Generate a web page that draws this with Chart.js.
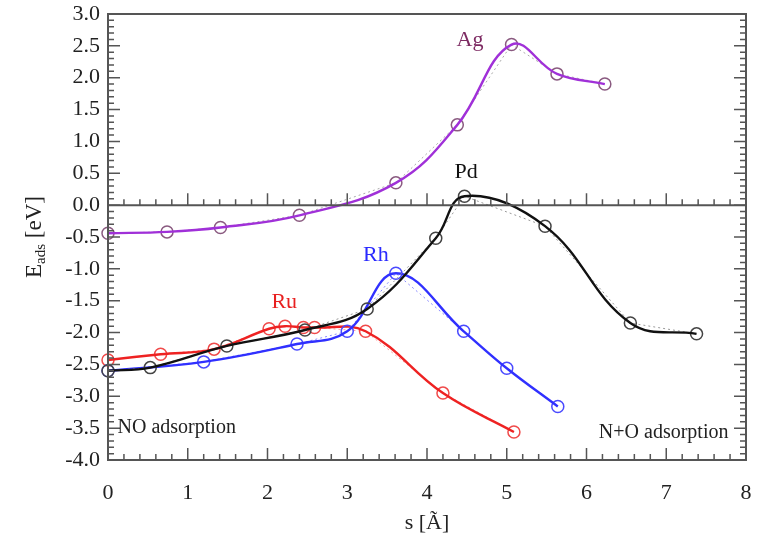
<!DOCTYPE html>
<html>
<head>
<meta charset="utf-8">
<script src="https://cdn.jsdelivr.net/npm/chart.js@4.4.1/dist/chart.umd.min.js"></script>
<style>
  html, body { margin: 0; padding: 0; background: #fff; }
  #wrap { width: 758px; height: 537px; }
</style>
</head>
<body>
<div id="wrap"><canvas id="chart" width="758" height="537"></canvas></div>
<script>
// reaction coordinate s [A] and adsorption energy [eV] per metal
const agS = [0, 0.74, 1.41, 2.40, 3.61, 4.38, 5.06, 5.63, 6.23];
const agE = [-0.44, -0.42, -0.35, -0.16, 0.35, 1.26, 2.52, 2.06, 1.90];

const pdS = [0, 0.53, 1.49, 2.47, 3.25, 4.11, 4.47, 5.48, 6.55, 7.38];
const pdE = [-2.60, -2.55, -2.21, -1.96, -1.63, -0.52, 0.14, -0.33, -1.85, -2.02];

const rhS = [0, 1.20, 2.37, 3.00, 3.61, 4.46, 5.00, 5.64];
const rhE = [-2.60, -2.46, -2.18, -1.98, -1.07, -1.98, -2.56, -3.16];

const ruS = [0, 0.66, 1.33, 2.02, 2.22, 2.45, 2.59, 3.23, 4.20, 5.09];
const ruE = [-2.43, -2.34, -2.26, -1.94, -1.90, -1.92, -1.92, -1.98, -2.95, -3.56];

// curve labels: text, s, E
const curveLabels = [
  ["Ag", 4.54, 2.59, "#7d2a62"],
  ["Pd", 4.49, 0.52, "#111"],
  ["Rh", 3.36, -0.78, "#2a2aff"],
  ["Ru", 2.21, -1.52, "#e82020"]
];

const xTicks = [0, 1, 2, 3, 4, 5, 6, 7, 8];
const yTicks = [-4.0, -3.5, -3.0, -2.5, -2.0, -1.5, -1.0, -0.5, 0.0, 0.5, 1.0, 1.5, 2.0, 2.5, 3.0];

const serif = "'Liberation Serif', 'DejaVu Serif', serif";

function pts(s, e) {
  return s.map((v, i) => ({ x: v, y: e[i] }));
}

function series(s, e, color, dotColor, circleColor) {
  return [
    {
      data: pts(s, e),
      borderColor: color,
      borderWidth: 2.4,
      tension: 0.4,
      pointRadius: 0,
      fill: false
    },
    {
      data: pts(s, e),
      borderColor: dotColor,
      borderWidth: 1,
      borderDash: [2, 3],
      tension: 0,
      pointRadius: 6,
      pointBorderWidth: 1.5,
      pointBorderColor: circleColor,
      pointBackgroundColor: "rgba(0,0,0,0)",
      clip: 10,
      fill: false
    }
  ];
}

const frame = {
  id: "frame",
  afterDraw(chart) {
    const ctx = chart.ctx;
    const a = chart.chartArea;
    const xs = chart.scales.x, ys = chart.scales.y;
    ctx.save();
    ctx.strokeStyle = "#555";
    ctx.lineWidth = 2;
    ctx.strokeRect(a.left, a.top, a.right - a.left, a.bottom - a.top);

    const y0 = ys.getPixelForValue(0);
    ctx.beginPath();
    ctx.moveTo(a.left, y0);
    ctx.lineTo(a.right, y0);
    ctx.stroke();

    // inward ticks
    ctx.lineWidth = 1.5;
    ctx.beginPath();
    for (let i = 0; i <= 40; i++) {
      const v = i * 0.2;
      const px = xs.getPixelForValue(v);
      const len = i % 5 === 0 ? 12 : 6;
      ctx.moveTo(px, a.bottom);
      ctx.lineTo(px, a.bottom - len);
      ctx.moveTo(px, y0);
      ctx.lineTo(px, y0 - len);
    }
    for (let i = 0; i <= 70; i++) {
      const v = -4 + i * 0.1;
      const py = ys.getPixelForValue(v);
      const len = i % 5 === 0 ? 12 : 6;
      ctx.moveTo(a.left, py);
      ctx.lineTo(a.left + len, py);
      ctx.moveTo(a.right, py);
      ctx.lineTo(a.right - len, py);
    }
    ctx.stroke();

    // curve labels
    ctx.textAlign = "center";
    ctx.textBaseline = "middle";
    ctx.font = "22px " + serif;
    curveLabels.forEach(([t, s, e, c]) => {
      ctx.fillStyle = c;
      ctx.fillText(t, xs.getPixelForValue(s), ys.getPixelForValue(e));
    });

    ctx.fillStyle = "#222";
    ctx.font = "20px " + serif;
    ctx.textAlign = "left";
    ctx.fillText("NO adsorption", xs.getPixelForValue(0.12), ys.getPixelForValue(-3.49));
    ctx.textAlign = "right";
    ctx.fillText("N+O adsorption", xs.getPixelForValue(7.78), ys.getPixelForValue(-3.58));

    // axis titles
    ctx.fillStyle = "#222";
    ctx.font = "22px " + serif;
    ctx.textAlign = "center";
    ctx.fillText("s [\u00c3]", (a.left + a.right) / 2, 523);

    ctx.translate(35, (a.top + a.bottom) / 2);
    ctx.rotate(-Math.PI / 2);
    ctx.textAlign = "left";
    const big = "23px " + serif, small = "15px " + serif;
    ctx.font = big;
    const wE = ctx.measureText("E").width;
    const wR = ctx.measureText(" [eV]").width;
    ctx.font = small;
    const wS = ctx.measureText("ads").width;
    let x = -(wE + wS + wR) / 2;
    ctx.font = big;
    ctx.fillText("E", x, 0);
    x += wE;
    ctx.font = small;
    ctx.fillText("ads", x, 6);
    x += wS;
    ctx.font = big;
    ctx.fillText(" [eV]", x, 0);
    ctx.restore();
  }
};

const datasets = [].concat(
  series(pdS, pdE, "#111111", "#999999", "#444444"),
  series(agS, agE, "#a030d8", "#aaaaaa", "#8a5a80"),
  series(rhS, rhE, "#3030ff", "#8a8aff", "#4a4aff"),
  series(ruS, ruE, "#ee2222", "#ff9a9a", "#f04a4a")
);

new Chart(document.getElementById("chart"), {
  type: "line",
  data: { datasets: datasets },
  options: {
    responsive: false,
    devicePixelRatio: 1,
    animation: false,
    layout: { padding: { top: 14, right: 12, left: 0, bottom: 0 } },
    plugins: { legend: { display: false }, tooltip: { enabled: false } },
    scales: {
      x: {
        type: "linear",
        min: 0,
        max: 8,
        grid: { display: false, drawTicks: false },
        border: { display: false },
        afterBuildTicks: s => { s.ticks = xTicks.map(v => ({ value: v })); },
        afterFit: s => { s.height = 77; s.paddingLeft = 0; s.paddingRight = 0; },
        ticks: {
          padding: 20,
          color: "#222",
          font: { family: serif, size: 22 },
          callback: v => String(v)
        }
      },
      y: {
        type: "linear",
        min: -4,
        max: 3,
        grid: { display: false, drawTicks: false },
        border: { display: false },
        afterBuildTicks: s => { s.ticks = yTicks.map(v => ({ value: v })); },
        afterFit: s => { s.width = 108; s.paddingTop = 0; s.paddingBottom = 0; },
        ticks: {
          padding: 8,
          color: "#222",
          font: { family: serif, size: 22 },
          callback: v => v.toFixed(1)
        }
      }
    }
  },
  plugins: [frame]
});
</script>
</body>
</html>
